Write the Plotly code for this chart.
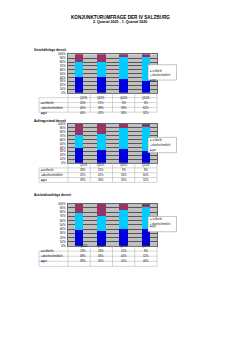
import plotly.graph_objects as go

W, H = 240, 339

quarters = ["Q2/25", "Q3/25", "Q4/25", "Q1/26"]
series_names = ["schlecht", "durchschnittlich", "gut"]
series_colors = ["#993366", "#00CCFF", "#0000DD"]

chart_titles = ["Geschäftslage derzeit", "Auftragsstand derzeit", "Auslandsaufträge derzeit"]

# values per chart: schlecht, durchschnittlich, gut
gesch_schlecht = [20, 21, 6, 6]
gesch_durch = [40, 38, 58, 62]
gesch_gut = [40, 41, 36, 32]

auftr_schlecht = [28, 25, 9, 8]
auftr_durch = [32, 41, 56, 60]
auftr_gut = [39, 34, 35, 32]

ausl_schlecht = [23, 29, 15, 8]
ausl_durch = [38, 36, 44, 52]
ausl_gut = [39, 35, 41, 40]

charts_data = [
    [gesch_schlecht, gesch_durch, gesch_gut],
    [auftr_schlecht, auftr_durch, auftr_gut],
    [ausl_schlecht, ausl_durch, ausl_gut],
]

y_ticks = list(range(0, 101, 10))

# layout in pixels: (title_y, plot_top, plot_bottom, table_bottom, legend_top)
geom = [
    (45.5, 53, 92, 111.5, 63.5),
    (120, 123.5, 163, 182.5, 137),
    (195, 204, 247, 267.5, 217),
]
PX0, PX1 = 68, 157
TX0 = 39
LX0, LX1 = 148, 176.5
FONT = "Liberation Sans, Arial"
FONT_N = "Liberation Sans Narrow, Liberation Sans, Arial"

def fx(px):
    return px / W

def fy(py):
    return 1 - py / H

fig = go.Figure()
shapes = []
annotations = []

annotations.append(dict(text="<b>KONJUNKTURUMFRAGE DER IV SALZBURG</b>", x=fx(120), y=fy(12.3),
                        xref="paper", yref="paper", showarrow=False, borderpad=0,
                        font=dict(family=FONT, size=4.6, color="black")))
annotations.append(dict(text="<b>2. Quartal 2025 - 1. Quartal 2026</b>", x=fx(120), y=fy(17.5),
                        xref="paper", yref="paper", showarrow=False, borderpad=0,
                        font=dict(family=FONT, size=3.6, color="black")))

for ci, (data, title, g) in enumerate(zip(charts_data, chart_titles, geom)):
    ty, pt, pb, tb, lt = g
    n = "" if ci == 0 else str(ci + 1)
    xa = "x" + n
    ya = "y" + n
    # stacked: gut bottom, durch middle, schlecht top
    for si in [2, 1, 0]:
        fig.add_trace(go.Bar(x=quarters, y=data[si], name=series_names[si],
                             marker=dict(color=series_colors[si], line=dict(width=0)),
                             width=0.38, xaxis=xa, yaxis=ya, showlegend=False, hoverinfo="skip"))
    fig.layout["xaxis" + n] = dict(domain=[fx(PX0), fx(PX1)], anchor=ya, showticklabels=False,
                                    showgrid=False, zeroline=False, range=[-0.5, 3.5],
                                    showline=True, linecolor="#666", linewidth=0.5, mirror=True,
                                    ticks="")
    fig.layout["yaxis" + n] = dict(domain=[fy(pb), fy(pt)], anchor=xa, range=[0, 100],
                                    tickvals=y_ticks, ticktext=[f"{v}%" for v in y_ticks],
                                    tickfont=dict(family=FONT, size=3.0, color="black"),
                                    showgrid=True, gridcolor="#555", gridwidth=0.4, zeroline=False,
                                    showline=True, linecolor="#666", linewidth=0.5, mirror=True,
                                    ticks="", ticklabelstandoff=1)
    # section title
    annotations.append(dict(text=f"<b>{title}</b>", x=fx(33), y=fy(ty), xref="paper", yref="paper",
                            xanchor="left", showarrow=False, borderpad=0,
                            font=dict(family=FONT_N, size=3.1, color="black")))
    # legend box
    lb = lt + 15.5
    shapes.append(dict(type="rect", xref="paper", yref="paper", x0=fx(LX0), x1=fx(LX1),
                       y0=fy(lb), y1=fy(lt), fillcolor="white", line=dict(color="#888", width=0.5),
                       layer="above"))
    for k in range(3):
        yy = lt + 2.8 + k * 5.0
        annotations.append(dict(text=f"<span style='color:{series_colors[k]}'>■</span> {series_names[k]}",
                                x=fx(LX0 + 1.0), y=fy(yy), xref="paper", yref="paper", xanchor="left",
                                showarrow=False, borderpad=0,
                                font=dict(family=FONT_N, size=2.6, color="black")))
    # table drawn with shapes + annotations
    row_h = (tb - pb) / 4
    col_w = (PX1 - PX0) / 4
    for r in range(5):
        yline = pb + r * row_h
        x0 = PX0 if r == 0 else TX0
        shapes.append(dict(type="line", xref="paper", yref="paper", x0=fx(x0), x1=fx(PX1),
                           y0=fy(yline), y1=fy(yline), line=dict(color="#aaa", width=0.5)))
    for c in range(6):
        xline = TX0 if c == 0 else PX0 + (c - 1) * col_w
        y0 = pb + row_h if c == 0 else pb
        shapes.append(dict(type="line", xref="paper", yref="paper", x0=fx(xline), x1=fx(xline),
                           y0=fy(y0), y1=fy(tb), line=dict(color="#aaa", width=0.5)))
    for q in range(4):
        annotations.append(dict(text=quarters[q], x=fx(PX0 + (q + 0.5) * col_w), y=fy(pb + 0.5 * row_h),
                                xref="paper", yref="paper", showarrow=False, borderpad=0,
                                font=dict(family=FONT, size=2.7, color="black")))
    for k in range(3):
        yc = pb + (k + 1.5) * row_h
        annotations.append(dict(text=f"<span style='color:{series_colors[k]}'>■</span>{series_names[k]}",
                                x=fx(TX0 + 0.6), y=fy(yc), xref="paper", yref="paper", xanchor="left",
                                showarrow=False, borderpad=0,
                                font=dict(family=FONT_N, size=2.9, color="black")))
        for q in range(4):
            annotations.append(dict(text=f"{data[k][q]}%", x=fx(PX0 + (q + 0.5) * col_w), y=fy(yc),
                                    xref="paper", yref="paper", showarrow=False, borderpad=0,
                                    font=dict(family=FONT, size=2.7, color="black")))

fig.update_layout(width=W, height=H, margin=dict(l=0, r=0, t=0, b=0),
                  paper_bgcolor="white", plot_bgcolor="#C0C0C0", barmode="stack",
                  shapes=shapes, annotations=annotations, showlegend=False)

fig.write_html("out.html")
